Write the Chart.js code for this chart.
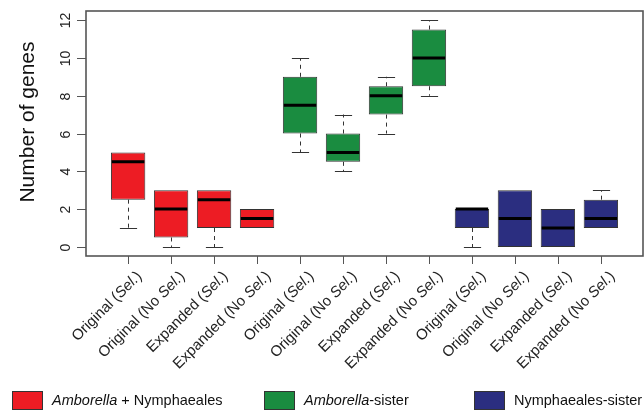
<!DOCTYPE html>
<html>
<head>
<meta charset="utf-8">
<script src="https://cdn.jsdelivr.net/npm/chart.js"></script>
<style>
  html, body { margin: 0; padding: 0; background: #fff; }
</style>
</head>
<body>
<canvas id="boxChart" width="644" height="410"></canvas>
<script>
// categories (x axis), repeated for the three topology groups
const categories = [
  'Original (Sel.)', 'Original (No Sel.)', 'Expanded (Sel.)', 'Expanded (No Sel.)',
  'Original (Sel.)', 'Original (No Sel.)', 'Expanded (Sel.)', 'Expanded (No Sel.)',
  'Original (Sel.)', 'Original (No Sel.)', 'Expanded (Sel.)', 'Expanded (No Sel.)'
];
const groupOf = [0, 0, 0, 0, 1, 1, 1, 1, 2, 2, 2, 2];

// box plot stats
const lowerWhisker = [1, 0, 0, 1,   5, 4, 6, 8,     0, 0, 0, 1];
const q1           = [2.5, 0.5, 1, 1, 6, 4.5, 7, 8.5, 1, 0, 0, 1];
const median       = [4.5, 2, 2.5, 1.5, 7.5, 5, 8, 10, 2, 1.5, 1, 1.5];
const q3           = [5, 3, 3, 2,   9, 6, 8.5, 11.5, 2, 3, 2, 2.5];
const upperWhisker = [5, 3, 3, 2,   10, 7, 9, 12,   2, 3, 2, 3];

const yTicks = [0, 2, 4, 6, 8, 10, 12];

// legend entries: [text, italic]
const legendItems = [
  [['Amborella', true], [' + Nymphaeales', false]],
  [['Amborella', true], ['-sister', false]],
  [['Nymphaeales-sister', false]]
];
const groupColors = ['#ED1C24', '#1A8C40', '#2B2E80'];

const FONT = '"Liberation Sans", Arial, sans-serif';

// split "(Sel.)" so that Sel. is italic
function labelParts(label) {
  const i = label.indexOf('Sel.');
  return [[label.slice(0, i), false], ['Sel.', true], [label.slice(i + 4), false]];
}

function drawParts(ctx, parts, size, x, y, alignRight) {
  let total = 0;
  parts.forEach(p => {
    ctx.font = (p[1] ? 'italic ' : '') + size + 'px ' + FONT;
    total += ctx.measureText(p[0]).width;
  });
  let cx = alignRight ? x - total : x;
  ctx.textAlign = 'left';
  parts.forEach(p => {
    ctx.font = (p[1] ? 'italic ' : '') + size + 'px ' + FONT;
    ctx.fillText(p[0], cx, y);
    cx += ctx.measureText(p[0]).width;
  });
}

const boxPlugin = {
  id: 'boxExtras',
  afterDatasetsDraw(chart) {
    const ctx = chart.ctx;
    const ys = chart.scales.y;
    const meta = chart.getDatasetMeta(0);
    ctx.save();
    meta.data.forEach((bar, i) => {
      const half = bar.width / 2;
      const cx = Math.round(bar.x) + 0.5;
      // whiskers
      ctx.strokeStyle = '#333';
      ctx.lineWidth = 1;
      const segs = [[q1[i], lowerWhisker[i]], [q3[i], upperWhisker[i]]];
      segs.forEach(s => {
        if (s[0] === s[1]) return;
        const y0 = ys.getPixelForValue(s[0]);
        const y1 = ys.getPixelForValue(s[1]);
        ctx.setLineDash([4, 4]);
        ctx.beginPath();
        ctx.moveTo(cx, y0);
        ctx.lineTo(cx, y1);
        ctx.stroke();
        ctx.setLineDash([]);
        ctx.beginPath();
        ctx.moveTo(cx - half / 2, Math.round(y1) + 0.5);
        ctx.lineTo(cx + half / 2, Math.round(y1) + 0.5);
        ctx.stroke();
      });
      // median
      const my = ys.getPixelForValue(median[i]);
      ctx.strokeStyle = '#000';
      ctx.lineWidth = 3;
      ctx.beginPath();
      ctx.moveTo(bar.x - half + 1, my);
      ctx.lineTo(bar.x + half - 1, my);
      ctx.stroke();
    });
    ctx.restore();
  },
  afterDraw(chart) {
    const ctx = chart.ctx;
    const area = chart.chartArea;
    const xs = chart.scales.x, ys = chart.scales.y;
    ctx.save();
    // frame
    ctx.strokeStyle = '#555';
    ctx.lineWidth = 1.6;
    ctx.strokeRect(area.left, area.top, area.right - area.left, area.bottom - area.top);

    // y axis ticks + labels
    ctx.lineWidth = 1;
    ctx.strokeStyle = '#555';
    ctx.fillStyle = '#222';
    yTicks.forEach(v => {
      const y = Math.round(ys.getPixelForValue(v)) + 0.5;
      ctx.beginPath();
      ctx.moveTo(area.left - 9, y);
      ctx.lineTo(area.left, y);
      ctx.stroke();
      ctx.save();
      ctx.translate(area.left - 20, y);
      ctx.rotate(-Math.PI / 2);
      ctx.font = '14px ' + FONT;
      ctx.textAlign = 'center';
      ctx.textBaseline = 'middle';
      ctx.fillText(String(v), 0, 0);
      ctx.restore();
    });

    // y title
    ctx.save();
    ctx.translate(28, 122);
    ctx.rotate(-Math.PI / 2);
    ctx.font = '21px ' + FONT;
    ctx.textAlign = 'center';
    ctx.textBaseline = 'middle';
    ctx.fillStyle = '#111';
    ctx.fillText('Number of genes', 0, 0);
    ctx.restore();

    // x axis ticks + rotated labels
    categories.forEach((c, i) => {
      const x = Math.round(xs.getPixelForValue(i + 1)) + 0.5;
      ctx.beginPath();
      ctx.moveTo(x, area.bottom);
      ctx.lineTo(x, area.bottom + 8);
      ctx.stroke();
      ctx.save();
      ctx.translate(x + 11, area.bottom + 18);
      ctx.rotate(-Math.PI / 4);
      ctx.textBaseline = 'middle';
      ctx.fillStyle = '#222';
      drawParts(ctx, labelParts(c), 15, 0, 0, true);
      ctx.restore();
    });

    // legend
    const legendX = [12, 264, 474];
    legendItems.forEach((parts, g) => {
      ctx.fillStyle = groupColors[g];
      ctx.fillRect(legendX[g], 391, 30, 18);
      ctx.strokeStyle = '#333';
      ctx.strokeRect(legendX[g] + 0.5, 391.5, 30, 18);
      ctx.fillStyle = '#111';
      ctx.textBaseline = 'middle';
      drawParts(ctx, parts, 14.5, legendX[g] + 40, 401, false);
    });
    ctx.restore();
  }
};

const ctx = document.getElementById('boxChart').getContext('2d');
new Chart(ctx, {
  type: 'bar',
  data: {
    datasets: [{
      data: categories.map((c, i) => ({ x: i + 1, y: [q1[i], q3[i]] })),
      backgroundColor: groupOf.map(g => groupColors[g]),
      borderColor: '#333',
      borderWidth: 1,
      borderSkipped: false,
      categoryPercentage: 0.8,
      barPercentage: 1
    }]
  },
  options: {
    responsive: false,
    animation: false,
    layout: { padding: { left: 86, top: 11, right: 1, bottom: 154 } },
    scales: {
      x: { type: 'linear', min: 0.02, max: 12.98, offset: false, display: false },
      y: { min: -0.48, max: 12.48, display: false }
    },
    plugins: {
      legend: { display: false },
      tooltip: { enabled: false }
    }
  },
  plugins: [boxPlugin]
});
</script>
</body>
</html>
